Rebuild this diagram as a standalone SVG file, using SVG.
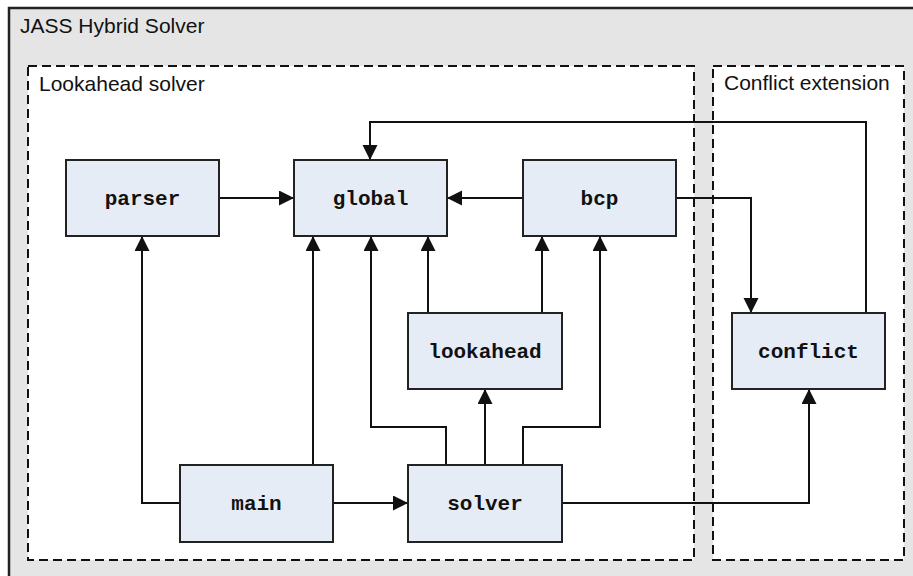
<svg xmlns="http://www.w3.org/2000/svg" width="913" height="576" viewBox="0 0 913 576">
<style>
.cluster{fill:#ffffff;stroke:#111;stroke-width:2;stroke-dasharray:9,5}
.title{font-family:"Liberation Sans",Arial,sans-serif;font-size:21px;fill:#111}
.node rect{fill:#e6ecf6;stroke:#222;stroke-width:2}
.node text{font-family:"Liberation Mono","Courier New",monospace;font-weight:bold;font-size:21px;fill:#111;text-anchor:middle}
.edge{fill:none;stroke:#111;stroke-width:2;marker-end:url(#arr)}
</style>
<defs>
<marker id="arr" markerUnits="userSpaceOnUse" markerWidth="16" markerHeight="16" refX="15" refY="7.5" orient="auto">
<path d="M0,0 L15,7.5 L0,15 z" fill="#111"/>
</marker>
</defs>
<rect x="9" y="8" width="912" height="580" fill="#e5e5e5" stroke="#222" stroke-width="2.5"/>
<text class="title" x="20" y="33">JASS Hybrid Solver</text>
<g id="lookahead-solver">
<rect class="cluster" x="28" y="66" width="666" height="494"/>
<text class="title" x="39" y="91">Lookahead solver</text>
</g>
<g id="conflict-extension">
<rect class="cluster" x="713" y="66" width="191" height="494"/>
<text class="title" x="724" y="90">Conflict extension</text>
</g>
<g id="connectors">
<path class="edge" d="M219,198 H294"/>
<path class="edge" d="M523,198 H447"/>
<path class="edge" d="M866,313 V122 H370 V160"/>
<path class="edge" d="M676,198 H751 V313"/>
<path class="edge" d="M180,503 H142 V236"/>
<path class="edge" d="M313,465 V236"/>
<path class="edge" d="M333,503 H408"/>
<path class="edge" d="M446,465 V427 H371 V236"/>
<path class="edge" d="M485,465 V389"/>
<path class="edge" d="M523,465 V427 H600 V236"/>
<path class="edge" d="M428,313 V236"/>
<path class="edge" d="M542,313 V236"/>
<path class="edge" d="M562,503 H809 V389"/>
</g>
<g id="parser" class="node"><rect x="66" y="160" width="153" height="76"/><text x="142.5" y="205">parser</text></g>
<g id="global" class="node"><rect x="294" y="160" width="153" height="76"/><text x="370.5" y="205">global</text></g>
<g id="bcp" class="node"><rect x="523" y="160" width="153" height="76"/><text x="599.5" y="205">bcp</text></g>
<g id="lookahead" class="node"><rect x="408" y="313" width="154" height="76"/><text x="485" y="358">lookahead</text></g>
<g id="conflict" class="node"><rect x="732" y="313" width="153" height="76"/><text x="808.5" y="358">conflict</text></g>
<g id="main" class="node"><rect x="180" y="465" width="153" height="77"/><text x="256.5" y="510">main</text></g>
<g id="solver" class="node"><rect x="408" y="465" width="154" height="77"/><text x="485" y="510">solver</text></g>
</svg>
